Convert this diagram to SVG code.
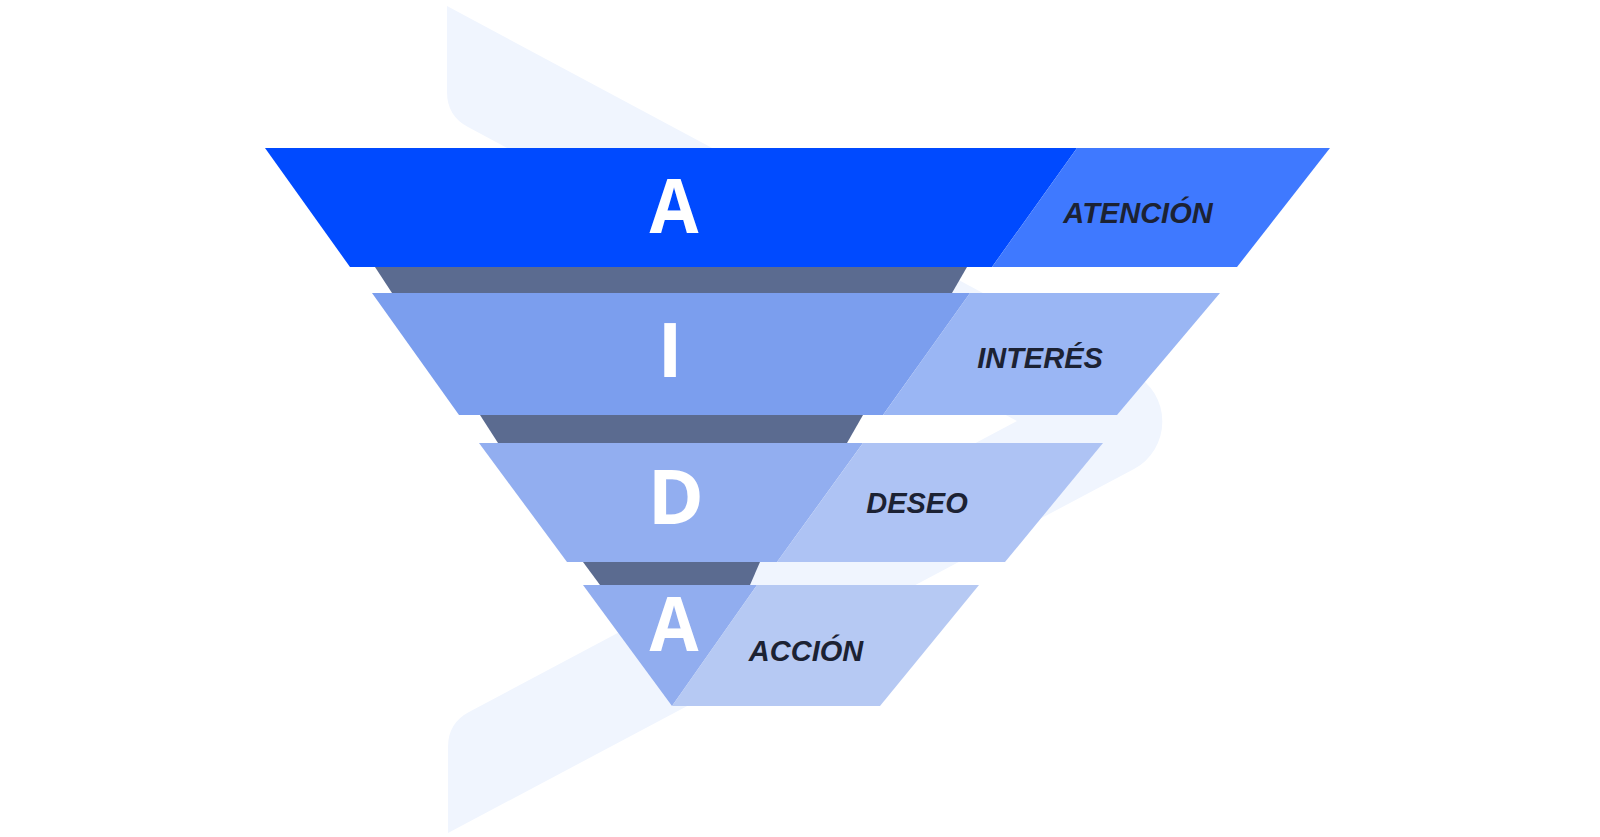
<svg xmlns="http://www.w3.org/2000/svg" width="1600" height="837" viewBox="0 0 1600 837">
  <style>
    .neck { fill: #5B6B90; }
    .letter { font-family: "Open Sans", "Liberation Sans", sans-serif; font-weight: 700; font-size: 76px; fill: #FFFFFF; text-anchor: middle; }
    .label { font-family: "Liberation Sans", Arial, sans-serif; font-weight: 700; font-style: italic; font-size: 29px; fill: #1C2233; text-anchor: middle; }
  </style>
  <rect width="1600" height="837" fill="#FFFFFF"/>
  <g id="background">
    <path d="M447,6 L1134,374 A54,54 0 0 1 1134,469 L448,833 L448,747 Q448,723 469,712 L1017,421 L468,127 Q447,116 447,92 Z" fill="#F0F5FE"/>
  </g>
  <g id="connectors">
    <polygon class="neck" points="375,267 967,267 952,293 392,293"/>
    <polygon class="neck" points="480,415 863,415 847,443 498,443"/>
    <polygon class="neck" points="583,562 760,562 750,585 600,585"/>
  </g>
  <g id="atencion">
    <polygon points="265,148 1077,148 992,267 350,267" fill="#004AFF"/>
    <polygon points="1077,148 1330,148 1237,267 992,267" fill="#3F79FF"/>
    <text class="letter" x="674" y="233" textLength="49" lengthAdjust="spacingAndGlyphs">A</text>
    <text class="label" x="1138" y="223">ATENCIÓN</text>
  </g>
  <g id="interes">
    <polygon points="372,293 970,293 883,415 459,415" fill="#7B9EEE"/>
    <polygon points="970,293 1220,293 1117,415 883,415" fill="#9AB6F4"/>
    <text class="letter" x="670" y="377">I</text>
    <text class="label" x="1040" y="368">INTERÉS</text>
  </g>
  <g id="deseo">
    <polygon points="479,443 863,443 777,562 567,562" fill="#92AEF0"/>
    <polygon points="863,443 1103,443 1005,562 777,562" fill="#AEC3F4"/>
    <text class="letter" x="676" y="524">D</text>
    <text class="label" x="917" y="513">DESEO</text>
  </g>
  <g id="accion">
    <polygon points="583,585 757,585 672,706" fill="#91ADEF"/>
    <polygon points="757,585 979,585 880,706 672,706" fill="#B6C9F3"/>
    <text class="letter" x="674" y="651" textLength="49" lengthAdjust="spacingAndGlyphs">A</text>
    <text class="label" x="806" y="661">ACCIÓN</text>
  </g>
</svg>
